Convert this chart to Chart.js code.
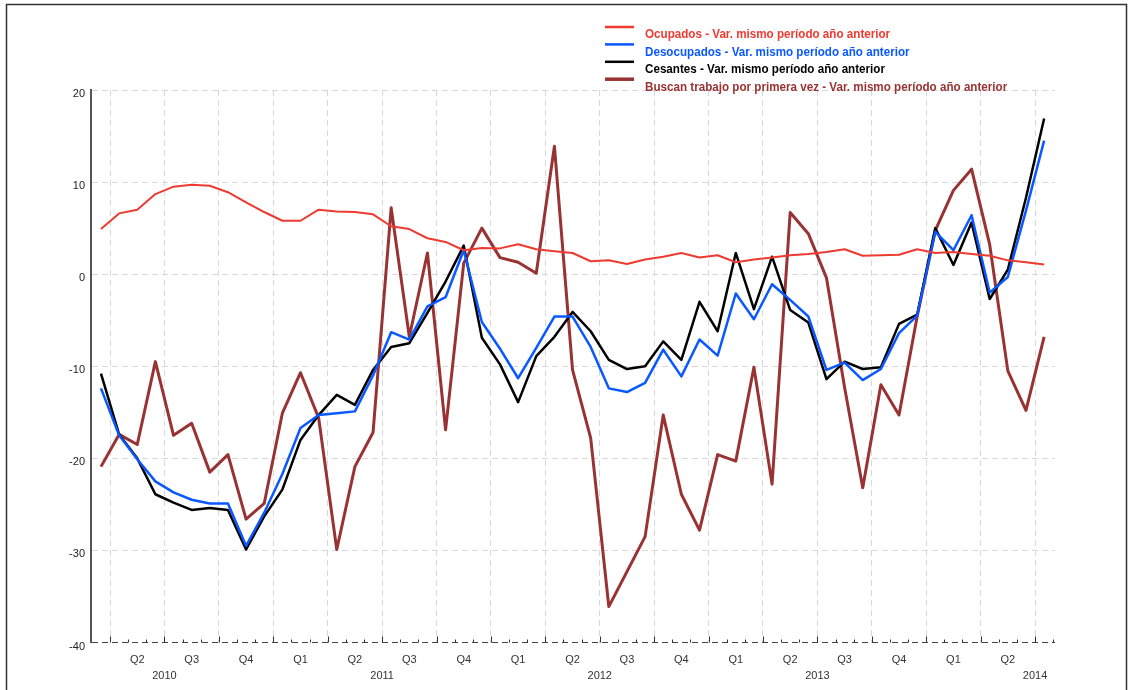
<!DOCTYPE html>
<html>
<head>
<meta charset="utf-8">
<script src="https://cdn.jsdelivr.net/npm/chart.js@4"></script>
<style>
  html, body { margin: 0; padding: 0; background: #fff; }
  #contenedor { width: 1130px; height: 690px; position: relative; }
</style>
</head>
<body>
<div id="contenedor"><canvas id="mercado"></canvas></div>
<script>
// Periodos mensuales (trimestre movil que termina en ese mes)
const periodos = [
  'mar-2010','abr-2010','may-2010','jun-2010','jul-2010','ago-2010','sep-2010','oct-2010','nov-2010','dic-2010',
  'ene-2011','feb-2011','mar-2011','abr-2011','may-2011','jun-2011','jul-2011','ago-2011','sep-2011','oct-2011','nov-2011','dic-2011',
  'ene-2012','feb-2012','mar-2012','abr-2012','may-2012','jun-2012','jul-2012','ago-2012','sep-2012','oct-2012','nov-2012','dic-2012',
  'ene-2013','feb-2013','mar-2013','abr-2013','may-2013','jun-2013','jul-2013','ago-2013','sep-2013','oct-2013','nov-2013','dic-2013',
  'ene-2014','feb-2014','mar-2014','abr-2014','may-2014','jun-2014','jul-2014'
];

const ocupados = [4.9, 6.6, 7.0, 8.7, 9.5, 9.7, 9.6, 8.9, 7.8, 6.75,
  5.8, 5.8, 7.0, 6.8, 6.75, 6.5, 5.2, 4.9, 3.9, 3.5, 2.6, 2.85,
  2.8, 3.25, 2.7, 2.5, 2.3, 1.4, 1.5, 1.1, 1.6, 1.9, 2.3, 1.8,
  2.05, 1.3, 1.6, 1.8, 2.05, 2.2, 2.4, 2.7, 2.0, 2.05, 2.1, 2.7,
  2.3, 2.4, 2.2, 2.0, 1.5, 1.3, 1.05];

const desocupados = [-12.4, -17.5, -20.1, -22.5, -23.7, -24.5, -24.9, -24.9, -29.5, -25.9,
  -21.7, -16.7, -15.3, -15.1, -14.9, -11.0, -6.3, -7.1, -3.5, -2.5, 2.6, -5.2,
  -8.1, -11.3, -8.0, -4.6, -4.6, -7.9, -12.4, -12.8, -11.8, -8.2, -11.1, -7.1,
  -8.85, -2.1, -4.9, -1.1, -2.8, -4.6, -10.4, -9.6, -11.5, -10.3, -6.4, -4.5,
  4.6, 2.6, 6.4, -2.0, -0.3, 6.9, 14.5];

const cesantes = [-10.8, -17.4, -20.0, -23.9, -24.8, -25.6, -25.4, -25.6, -29.9, -26.3,
  -23.4, -18.0, -15.3, -13.1, -14.2, -10.4, -7.9, -7.5, -4.2, -0.8, 3.1, -6.9,
  -9.8, -13.9, -8.9, -6.8, -4.1, -6.2, -9.3, -10.3, -10.0, -7.3, -9.3, -3.0,
  -6.2, 2.3, -3.8, 1.9, -3.9, -5.25, -11.4, -9.5, -10.3, -10.1, -5.4, -4.4,
  5.0, 1.0, 5.6, -2.7, 0.5, 8.3, 16.9];

const buscan = [-20.9, -17.4, -18.5, -9.5, -17.5, -16.2, -21.5, -19.6, -26.6, -24.9,
  -15.1, -10.7, -15.6, -29.9, -20.9, -17.2, 7.2, -6.8, 2.3, -16.9, 1.2, 5.0,
  1.8, 1.3, 0.1, 13.9, -10.4, -17.8, -36.1, -32.3, -28.5, -15.3, -23.9, -27.8,
  -19.6, -20.3, -10.1, -22.8, 6.7, 4.4, -0.4, -12.3, -23.2, -12.0, -15.3, -4.6,
  4.75, 9.1, 11.4, 3.2, -10.5, -14.8, -6.8];

const trimestres = ['Q2','Q3','Q4','Q1','Q2','Q3','Q4','Q1','Q2','Q3','Q4','Q1','Q2','Q3','Q4','Q1','Q2'];
const anios = ['2010', '2011', '2012', '2013', '2014'];
const ticksY = [-40, -30, -20, -10, 0, 10, 20];

const series = [
  { nombre: 'Ocupados - Var. mismo período año anterior', datos: ocupados, color: '#ee3a30', ancho: 2 },
  { nombre: 'Desocupados - Var. mismo período año anterior', datos: desocupados, color: '#0a58ff', ancho: 2.5 },
  { nombre: 'Cesantes - Var. mismo período año anterior', datos: cesantes, color: '#000000', ancho: 2.5 },
  { nombre: 'Buscan trabajo por primera vez - Var. mismo período año anterior', datos: buscan, color: '#993333', ancho: 3 }
];

const fuente = '"Liberation Sans", Arial, sans-serif';

// limites de trimestre entre meses (0.5, 3.5, ...) y centros de trimestre (2, 5, ...)
const ticksX = [];
for (let k = 0; k <= trimestres.length; k++) ticksX.push({ value: 0.5 + 3 * k });
for (let k = 0; k < trimestres.length; k++) ticksX.push({ value: 2 + 3 * k });
ticksX.sort((a, b) => a.value - b.value);

function esLimite(v) {
  return Math.abs(((v - 0.5) / 3) - Math.round((v - 0.5) / 3)) < 1e-6;
}

function etiquetaX(v) {
  if (esLimite(v)) {
    const k = Math.round((v - 0.5) / 3);
    if ((k - 1) % 4 === 0) {
      const a = anios[(k - 1) / 4];
      if (a) return ['', a];
    }
    return '';
  }
  const q = Math.round((v - 2) / 3);
  return trimestres[q] || '';
}

const fondoMarco = {
  id: 'fondoMarco',
  beforeDraw(chart) {
    const ctx = chart.ctx;
    ctx.save();
    ctx.fillStyle = '#fff';
    ctx.fillRect(0, 0, chart.width, chart.height);
    ctx.restore();
  },
  afterDraw(chart) {
    const ctx = chart.ctx;
    ctx.save();
    ctx.strokeStyle = '#333';
    ctx.lineWidth = 1.5;
    ctx.strokeRect(6.5, 4.5, 1120, 700);
    ctx.restore();
  }
};

// marcas mensuales sobre el eje inferior
const marcasMes = {
  id: 'marcasMes',
  afterDatasetsDraw(chart) {
    const ctx = chart.ctx;
    const x = chart.scales.x;
    const base = chart.chartArea.bottom;
    ctx.save();
    ctx.strokeStyle = '#333';
    ctx.lineWidth = 1;
    for (let k = 0; k < periodos.length; k++) {
      const v = k + 0.5;
      if (v > x.max) break;
      const px = Math.round(x.getPixelForValue(v)) + 0.5;
      const alto = esLimite(v) ? 6 : 3;
      ctx.beginPath();
      ctx.moveTo(px, base);
      ctx.lineTo(px, base - alto);
      ctx.stroke();
    }
    ctx.restore();
  }
};

const leyenda = {
  id: 'leyenda',
  afterDraw(chart) {
    const ctx = chart.ctx;
    ctx.save();
    ctx.font = 'bold 12px ' + fuente;
    ctx.textBaseline = 'middle';
    series.forEach((s, i) => {
      const yl = 27 + i * 17.4;
      ctx.strokeStyle = s.color;
      ctx.lineWidth = i === 3 ? 3.5 : 2.5;
      ctx.beginPath();
      ctx.moveTo(605, yl);
      ctx.lineTo(634, yl);
      ctx.stroke();
      ctx.fillStyle = s.color;
      const w = ctx.measureText(s.nombre).width;
      ctx.fillText(s.nombre, 645, yl + 8, w * 0.97);
    });
    ctx.restore();
  }
};

try {
  const lienzo = document.getElementById('mercado');
  const grafico = new Chart(lienzo, {
    type: 'line',
    data: {
      datasets: series.map(s => ({
        label: s.nombre,
        data: s.datos.map((v, i) => ({ x: i, y: v })),
        borderColor: s.color,
        backgroundColor: s.color,
        borderWidth: s.ancho,
        borderJoinStyle: 'round',
        pointRadius: 0,
        tension: 0,
        fill: false
      }))
    },
    options: {
      responsive: true,
      maintainAspectRatio: false,
      animation: false,
      layout: { padding: { top: 90, right: 75, bottom: 0, left: 0 } },
      scales: {
        x: {
          type: 'linear',
          min: -0.55,
          max: 52.6,
          afterBuildTicks: eje => { eje.ticks = ticksX.map(t => ({ value: t.value })); },
          afterFit: eje => { eje.height = 47.5; },
          grid: {
            color: c => (c.tick && esLimite(c.tick.value)) ? '#d8d8d8' : 'rgba(0,0,0,0)',
            drawTicks: false
          },
          border: { display: false, dash: [6, 4] },
          ticks: {
            autoSkip: false,
            maxRotation: 0,
            padding: 9,
            color: '#333',
            font: { family: fuente, size: 11, lineHeight: 1.5 },
            callback: v => etiquetaX(v)
          }
        },
        y: {
          min: -40,
          max: 20,
          afterBuildTicks: eje => { eje.ticks = ticksY.map(v => ({ value: v })); },
          afterFit: eje => { eje.width = 91; },
          grid: {
            color: c => (c.tick && c.tick.value === -40) ? '#444' : '#d8d8d8',
            drawTicks: false
          },
          border: { display: true, color: '#555', width: 2, dash: [6, 4] },
          ticks: {
            padding: 6,
            labelOffset: 4,
            color: '#222',
            font: { family: fuente, size: 11 }
          }
        }
      },
      plugins: {
        legend: { display: false },
        tooltip: { enabled: false }
      }
    },
    plugins: [fondoMarco, marcasMes, leyenda]
  });
} catch (error) {
  console.error(error);
}
</script>
</body>
</html>
